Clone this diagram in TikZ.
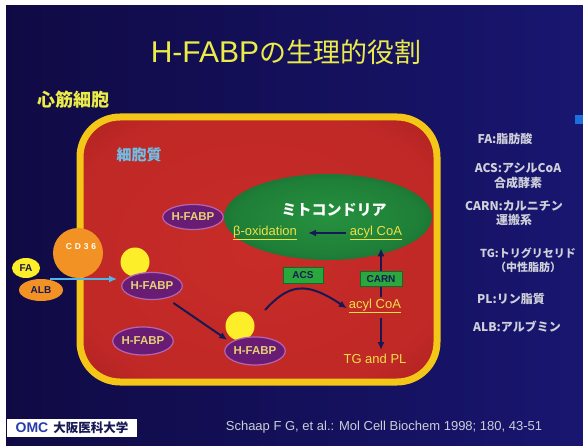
\documentclass[tikz,border=0pt]{standalone}
\usepackage{fontspec}
\setmainfont{Liberation Sans}
\newfontfamily\jp{Noto Sans CJK JP}
\usetikzlibrary{arrows.meta,shapes.geometric}

\definecolor{bgnavy}{RGB}{16,10,68}
\definecolor{bgblue}{RGB}{24,22,112}
\definecolor{titleyel}{RGB}{236,236,72}
\definecolor{cellrim}{RGB}{244,198,24}
\definecolor{cellin}{RGB}{200,44,40}
\definecolor{cellout}{RGB}{140,20,26}
\definecolor{mitoin}{RGB}{38,145,62}
\definecolor{mitoout}{RGB}{8,72,36}
\definecolor{fabpfill}{RGB}{105,28,115}
\definecolor{fabprim}{RGB}{180,100,180}
\definecolor{fabptext}{RGB}{228,208,118}
\definecolor{labyel}{RGB}{240,224,72}
\definecolor{enzgreen}{RGB}{42,168,62}
\definecolor{enzrim}{RGB}{20,105,40}
\definecolor{inkblue}{RGB}{24,24,84}
\definecolor{cytblue}{RGB}{110,192,232}
\definecolor{cdorange}{RGB}{242,146,36}
\definecolor{ligyel}{RGB}{252,238,40}
\definecolor{arrowcyan}{RGB}{80,182,236}
\definecolor{legendgray}{RGB}{208,208,218}
\definecolor{citegray}{RGB}{205,205,215}
\definecolor{omcblue}{RGB}{40,60,170}
\definecolor{tabblue}{RGB}{30,110,220}

\pgfdeclareradialshading{cellshade}{\pgfpoint{0bp}{0bp}}{color(0bp)=(cellin); color(28bp)=(cellin!85!cellout); color(50bp)=(cellout); color(72bp)=(cellout)}
\pgfdeclareradialshading{mitoshade}{\pgfpoint{0bp}{0bp}}{color(0bp)=(mitoin); color(22bp)=(mitoin!75!mitoout); color(46bp)=(mitoout); color(72bp)=(mitoout)}

\tikzset{
  fabp/.style={ellipse, draw=fabprim, line width=1.2pt, fill=fabpfill, inner sep=0pt,
    minimum width=60pt, minimum height=27pt, text=fabptext,
    font=\bfseries\fontsize{11.5}{12}\selectfont},
  ligand/.style={circle, fill=ligyel, inner sep=0pt, minimum size=29pt},
  yellab/.style={text=labyel, inner sep=2pt, font=\fontsize{13}{15}\selectfont},
  enzbox/.style={rectangle, fill=enzgreen, draw=enzrim, line width=0.8pt, inner sep=0pt,
    text=inkblue, font=\bfseries\fontsize{10}{11}\selectfont},
  legend/.style={text=legendgray, align=center, font=\jp\bfseries\fontsize{12}{14.5}\selectfont},
  darkarrow/.style={draw=inkblue, line width=2pt, -{Latex[length=8pt,width=7pt]}},
  darkline/.style={draw=inkblue, line width=2pt},
  cyanarrow/.style={draw=arrowcyan, line width=2pt, -{Latex[length=8pt,width=7pt]}},
}

\begin{document}
\begin{tikzpicture}[x=1pt,y=-1pt]
\useasboundingbox (0,0) rectangle (583,446);

% slide background
\fill[white] (0,0) rectangle (583,446);
\shade[left color=bgnavy, right color=bgblue] (6,6) rectangle (583,446);
\fill[tabblue] (575,115) rectangle (583,124);

% headings
\node[text=titleyel, font=\fontsize{27}{30}\selectfont] (title) at (286,52)
  {{\fontsize{30}{30}\selectfont H-FABP}{\jp の生理的役割}};
\node[text=titleyel, font=\jp\bfseries\fontsize{18}{20}\selectfont] (heart) at (73,100) {心筋細胞};

% the cell with its cytoplasm
\shade[shading=cellshade, rounded corners=40pt] (80,117) rectangle (437,382);
\draw[cellrim, line width=7pt, rounded corners=40pt] (80,117) rectangle (437,382);
\node[text=cytblue, font=\jp\bfseries\fontsize{15}{16}\selectfont] (cyto) at (139,155) {細胞質};

% mitochondrion
\node[ellipse, shading=mitoshade, minimum width=208pt, minimum height=86pt, inner sep=0pt] (mito) at (328,217) {};
\node[text=white, font=\jp\bfseries\fontsize{15}{16}\selectfont] (mitolabel) at (334,210) {ミトコンドリア};
\node[yellab] (beta) at (265,233) {\underline{β-oxidation}};
\node[yellab] (acyl1) at (376,233) {\underline{acyl CoA}};

% enzymes and metabolites in the cytoplasm
\node[enzbox, minimum width=40pt, minimum height=16pt] (acs) at (303,275) {ACS};
\node[enzbox, minimum width=42pt, minimum height=15pt] (carn) at (381,279) {CARN};
\node[yellab] (acyl2) at (375,306) {\underline{acyl CoA}};
\node[yellab] (tg) at (375,359) {TG and PL};

% fatty acids bound to H-FABP
\node[ligand] (lig1) at (135,262) {};
\node[ligand] (lig2) at (240,326) {};
\node[fabp, minimum width=58pt, minimum height=25pt] (hf1) at (193,217) {H-FABP};
\node[fabp] (hf2) at (152,286) {H-FABP};
\node[fabp, minimum height=28pt] (hf3) at (143,341) {H-FABP};
\node[fabp, minimum height=28pt] (hf4) at (255,351) {H-FABP};

% membrane transporter and albumin-bound fatty acid outside the cell
\node[circle, fill=cdorange, minimum size=50pt, inner sep=0pt] (cd36) at (78,253) {};
\node[text=white, font=\bfseries\fontsize{8.5}{9}\selectfont] (cd36text) at (81,247) {C\,\,D\,\,3\,\,6};
\node[ellipse, fill=ligyel, minimum width=28pt, minimum height=20pt, inner sep=0pt,
  text=inkblue, font=\bfseries\fontsize{10}{11}\selectfont] (fa) at (26,268) {FA};
\node[ellipse, fill=cdorange, minimum width=44pt, minimum height=22pt, inner sep=0pt,
  text=inkblue, font=\bfseries\fontsize{10}{11}\selectfont] (alb) at (41,290) {ALB};

% pathways
\coordinate (albout) at (50,279);
\draw[cyanarrow, shorten >=4pt] (albout) -- (albout -| hf2.west);
\draw[darkarrow, shorten <=8pt, shorten >=4pt] (hf2.-40) -- (hf4.160);
\coordinate (acsstart) at (265,310);
\draw[darkarrow] (acsstart) .. controls (288,285) and (305,280) .. (acyl2.base west);
\draw[darkarrow, shorten <=2pt, shorten >=9pt] (acyl1.west) -- (beta.east);
\draw[darkline] (acyl2.north -| carn.south) -- (carn.south);
\draw[darkarrow, shorten >=6pt] (carn.north) -- (carn.north |- acyl1.south);
\draw[darkarrow, shorten <=3pt, shorten >=2pt] (acyl2.south -| carn.south) -- (tg.north -| carn.south);

% abbreviations
\node[legend] (lgfa) at (505,139) {FA:脂肪酸};
\node[legend] (lgacs) at (518,176) {ACS:アシルCoA\\合成酵素};
\node[legend] (lgcarn) at (514,213) {CARN:カルニチン\\運搬系};
\node[legend, font=\jp\bfseries\fontsize{11}{14.5}\selectfont] (lgtg) at (528,260) {TG:トリグリセリド\\（中性脂肪）};
\node[legend] (lgpl) at (511,299) {PL:リン脂質};
\node[legend] (lgalb) at (517,327) {ALB:アルブミン};

% footer
\node[text=citegray, font=\fontsize{13}{15}\selectfont] (cite) at (384,427)
  {Schaap F G, et al.: Mol Cell Biochem 1998; 180, 43-51};
\node[fill=white, minimum width=130pt, minimum height=18pt, inner sep=0pt] (logo) at (72,428)
  {{\color{omcblue}\bfseries\fontsize{14}{14}\selectfont OMC}\hspace{5pt}{\color{inkblue}\jp\bfseries\fontsize{12.5}{13}\selectfont 大阪医科大学}};
\end{tikzpicture}
\end{document}
